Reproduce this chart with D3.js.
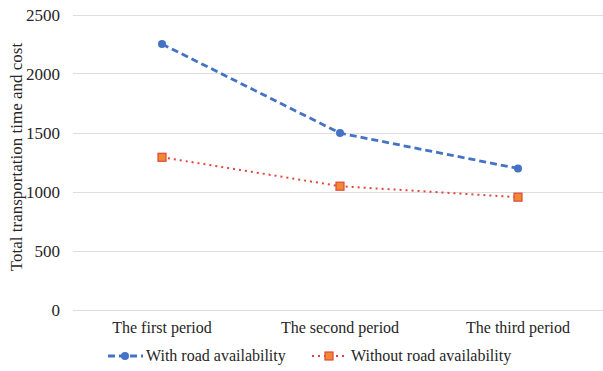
<!DOCTYPE html>
<html>
<head>
<meta charset="utf-8">
<script src="https://cdn.jsdelivr.net/npm/d3@7"></script>
<style>
body { margin:0; background:#fff; }
svg text { font-family: "Liberation Serif", Tinos, "Times New Roman", Times, "DejaVu Serif", serif; fill:#262626; }
</style>
</head>
<body>
<svg id="chart"></svg>
<script>
var periods = ["The first period", "The second period", "The third period"];
var withRoad = [2250, 1495, 1195];
var withoutRoad = [1290, 1045, 952];
var yTicks = [0, 500, 1000, 1500, 2000, 2500];
var seriesNames = ["With road availability", "Without road availability"];

var screen = {width:603, height:371};
var margins = {top:14, left:73};
var serif = "'Liberation Serif', Tinos, 'Times New Roman', Times, 'DejaVu Serif', serif";

var svg = d3.select("#chart")
    .attr("width", screen.width)
    .attr("height", screen.height);

var xScale = d3.scalePoint()
    .domain(periods)
    .range([162, 518]);

var yScale = d3.scaleLinear()
    .domain([0, 2500])
    .range([309.5, 14.5]);

// gridlines
svg.append("g")
    .selectAll("line")
    .data(yTicks)
    .enter()
    .append("line")
    .attr("x1", margins.left)
    .attr("x2", screen.width)
    .attr("y1", d => Math.round(yScale(d)) + 0.5)
    .attr("y2", d => Math.round(yScale(d)) + 0.5)
    .attr("stroke", "#dedede")
    .attr("stroke-width", 1);

// y tick labels
svg.append("g")
    .selectAll("text")
    .data(yTicks)
    .enter()
    .append("text")
    .text(d => d)
    .attr("x", 60)
    .attr("y", d => yScale(d) + 6)
    .attr("text-anchor", "end")
    .attr("font-family", serif)
    .style("font-size", "17px");

// x labels
svg.append("g")
    .selectAll("text")
    .data(periods)
    .enter()
    .append("text")
    .text(d => d)
    .attr("x", d => xScale(d))
    .attr("y", 333)
    .attr("text-anchor", "middle")
    .attr("font-family", serif)
    .style("font-size", "16px");

// y axis title
svg.append("text")
    .text("Total transportation time and cost")
    .attr("transform", "translate(22,157) rotate(-90)")
    .attr("text-anchor", "middle")
    .attr("font-family", serif)
    .style("font-size", "17px");

var line = d3.line()
    .x((d, i) => xScale(periods[i]))
    .y(d => yScale(d));

svg.append("path")
    .datum(withRoad)
    .attr("d", line)
    .attr("fill", "none")
    .attr("stroke", "#4472c4")
    .attr("stroke-width", 2.8)
    .attr("stroke-dasharray", "7,4");

svg.append("path")
    .datum(withoutRoad)
    .attr("d", line)
    .attr("fill", "none")
    .attr("stroke", "#e0463c")
    .attr("stroke-width", 2)
    .attr("stroke-dasharray", "2,4");

svg.append("g")
    .selectAll("circle")
    .data(withRoad)
    .enter()
    .append("circle")
    .attr("cx", (d, i) => xScale(periods[i]))
    .attr("cy", d => yScale(d))
    .attr("r", 4)
    .attr("fill", "#4472c4");

svg.append("g")
    .selectAll("rect")
    .data(withoutRoad)
    .enter()
    .append("rect")
    .attr("x", (d, i) => xScale(periods[i]) - 4)
    .attr("y", d => yScale(d) - 4)
    .attr("width", 8)
    .attr("height", 8)
    .attr("fill", "#f08a30")
    .attr("stroke", "#e0463c")
    .attr("stroke-width", 1.2);

// legend
var legend = svg.append("g");
var lx = [108, 312];
var ly = 356;

legend.append("line")
    .attr("x1", lx[0]).attr("x2", lx[0] + 35)
    .attr("y1", ly).attr("y2", ly)
    .attr("stroke", "#4472c4").attr("stroke-width", 2.8)
    .attr("stroke-dasharray", "7,4");
legend.append("circle")
    .attr("cx", lx[0] + 17).attr("cy", ly).attr("r", 4)
    .attr("fill", "#4472c4");
legend.append("text")
    .text(seriesNames[0])
    .attr("x", lx[0] + 38).attr("y", ly + 5)
    .attr("font-family", serif)
    .style("font-size", "16px");

legend.append("line")
    .attr("x1", lx[1]).attr("x2", lx[1] + 35)
    .attr("y1", ly).attr("y2", ly)
    .attr("stroke", "#e0463c").attr("stroke-width", 2)
    .attr("stroke-dasharray", "2,4");
legend.append("rect")
    .attr("x", lx[1] + 13).attr("y", ly - 4)
    .attr("width", 8).attr("height", 8)
    .attr("fill", "#f08a30").attr("stroke", "#e0463c").attr("stroke-width", 1.2);
legend.append("text")
    .text(seriesNames[1])
    .attr("x", lx[1] + 39).attr("y", ly + 5)
    .attr("font-family", serif)
    .style("font-size", "16px");
</script>
</body>
</html>
